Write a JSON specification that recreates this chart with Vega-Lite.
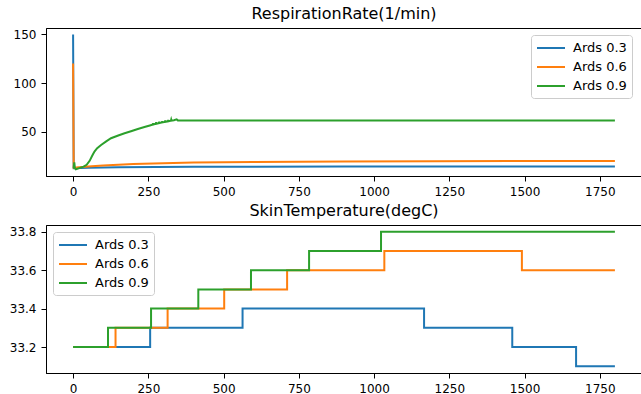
{
  "$schema": "https://vega.github.io/schema/vega-lite/v6.json",
  "padding": {"left": 8, "top": 5, "right": 0, "bottom": 4},
  "config": {
    "font": "DejaVu Sans",
    "view": {"stroke": "black", "strokeWidth": 1},
    "axis": {"grid": false, "domainColor": "black", "tickColor": "black", "labelColor": "black", "labelFontSize": 12, "labelFont": "DejaVu Sans", "tickSize": 5, "labelPadding": 5, "domainWidth": 1, "tickWidth": 1},
    "title": {"fontSize": 16, "fontWeight": "normal", "font": "DejaVu Sans", "color": "black", "baseline": "alphabetic", "offset": 6, "anchor": "middle"},
    "legend": {"orient": "none", "title": null, "symbolType": "M-1,0H3", "symbolSize": 196, "symbolStrokeWidth": 2, "labelFontSize": 13, "labelFont": "DejaVu Sans", "labelColor": "black", "labelOffset": 21, "rowPadding": 4, "padding": 5, "strokeColor": "#cccccc", "fillColor": "rgba(255,255,255,0.8)", "cornerRadius": 3}
  },
  "datasets": {
    "resp": [
      {"t": 0, "v": 150, "s": "Ards 0.3"},
      {"t": 2, "v": 12.5, "s": "Ards 0.3"},
      {"t": 50, "v": 13, "s": "Ards 0.3"},
      {"t": 150, "v": 13.5, "s": "Ards 0.3"},
      {"t": 400, "v": 13.9, "s": "Ards 0.3"},
      {"t": 900, "v": 14.1, "s": "Ards 0.3"},
      {"t": 1800, "v": 14.2, "s": "Ards 0.3"},
      {"t": 0, "v": 120, "s": "Ards 0.6"},
      {"t": 2, "v": 13, "s": "Ards 0.6"},
      {"t": 20, "v": 13.5, "s": "Ards 0.6"},
      {"t": 50, "v": 14.2, "s": "Ards 0.6"},
      {"t": 100, "v": 15.2, "s": "Ards 0.6"},
      {"t": 150, "v": 16, "s": "Ards 0.6"},
      {"t": 200, "v": 16.7, "s": "Ards 0.6"},
      {"t": 300, "v": 17.6, "s": "Ards 0.6"},
      {"t": 400, "v": 18.2, "s": "Ards 0.6"},
      {"t": 600, "v": 18.8, "s": "Ards 0.6"},
      {"t": 900, "v": 19.3, "s": "Ards 0.6"},
      {"t": 1200, "v": 19.6, "s": "Ards 0.6"},
      {"t": 1500, "v": 19.8, "s": "Ards 0.6"},
      {"t": 1800, "v": 19.9, "s": "Ards 0.6"},
      {"t": 0, "v": 12.5, "s": "Ards 0.9"},
      {"t": 2, "v": 13, "s": "Ards 0.9"},
      {"t": 4, "v": 18.5, "s": "Ards 0.9"},
      {"t": 6, "v": 12.5, "s": "Ards 0.9"},
      {"t": 9, "v": 11.3, "s": "Ards 0.9"},
      {"t": 20, "v": 12.5, "s": "Ards 0.9"},
      {"t": 35, "v": 14, "s": "Ards 0.9"},
      {"t": 45, "v": 15.9, "s": "Ards 0.9"},
      {"t": 55, "v": 20, "s": "Ards 0.9"},
      {"t": 63, "v": 25, "s": "Ards 0.9"},
      {"t": 71, "v": 29.5, "s": "Ards 0.9"},
      {"t": 80, "v": 33, "s": "Ards 0.9"},
      {"t": 93, "v": 36.3, "s": "Ards 0.9"},
      {"t": 110, "v": 40, "s": "Ards 0.9"},
      {"t": 126, "v": 43.2, "s": "Ards 0.9"},
      {"t": 150, "v": 46, "s": "Ards 0.9"},
      {"t": 171, "v": 48.3, "s": "Ards 0.9"},
      {"t": 195, "v": 50.7, "s": "Ards 0.9"},
      {"t": 215, "v": 52.7, "s": "Ards 0.9"},
      {"t": 240, "v": 55, "s": "Ards 0.9"},
      {"t": 255, "v": 56.4, "s": "Ards 0.9"},
      {"t": 265, "v": 57.3, "s": "Ards 0.9"},
      {"t": 266, "v": 58.8, "s": "Ards 0.9"},
      {"t": 267, "v": 57.4, "s": "Ards 0.9"},
      {"t": 275, "v": 58.1, "s": "Ards 0.9"},
      {"t": 276, "v": 59.6, "s": "Ards 0.9"},
      {"t": 277, "v": 58.2, "s": "Ards 0.9"},
      {"t": 285, "v": 58.8, "s": "Ards 0.9"},
      {"t": 286, "v": 60.2, "s": "Ards 0.9"},
      {"t": 287, "v": 58.9, "s": "Ards 0.9"},
      {"t": 295, "v": 59.4, "s": "Ards 0.9"},
      {"t": 296, "v": 60.8, "s": "Ards 0.9"},
      {"t": 297, "v": 59.5, "s": "Ards 0.9"},
      {"t": 305, "v": 60, "s": "Ards 0.9"},
      {"t": 306, "v": 61.4, "s": "Ards 0.9"},
      {"t": 307, "v": 60.1, "s": "Ards 0.9"},
      {"t": 315, "v": 60.6, "s": "Ards 0.9"},
      {"t": 316, "v": 62, "s": "Ards 0.9"},
      {"t": 317, "v": 60.7, "s": "Ards 0.9"},
      {"t": 325, "v": 61.2, "s": "Ards 0.9"},
      {"t": 326, "v": 62.4, "s": "Ards 0.9"},
      {"t": 327, "v": 61.3, "s": "Ards 0.9"},
      {"t": 335, "v": 61.8, "s": "Ards 0.9"},
      {"t": 344, "v": 62.6, "s": "Ards 0.9"},
      {"t": 348, "v": 61.6, "s": "Ards 0.9"},
      {"t": 1800, "v": 61.6, "s": "Ards 0.9"}
    ],
    "skin": [
      {"t": 0, "v": 33.2, "s": "Ards 0.3"},
      {"t": 256, "v": 33.3, "s": "Ards 0.3"},
      {"t": 563, "v": 33.4, "s": "Ards 0.3"},
      {"t": 1166, "v": 33.3, "s": "Ards 0.3"},
      {"t": 1459, "v": 33.2, "s": "Ards 0.3"},
      {"t": 1671, "v": 33.1, "s": "Ards 0.3"},
      {"t": 1800, "v": 33.1, "s": "Ards 0.3"},
      {"t": 0, "v": 33.2, "s": "Ards 0.6"},
      {"t": 141, "v": 33.3, "s": "Ards 0.6"},
      {"t": 314, "v": 33.4, "s": "Ards 0.6"},
      {"t": 502, "v": 33.5, "s": "Ards 0.6"},
      {"t": 711, "v": 33.6, "s": "Ards 0.6"},
      {"t": 1034, "v": 33.7, "s": "Ards 0.6"},
      {"t": 1491, "v": 33.6, "s": "Ards 0.6"},
      {"t": 1800, "v": 33.6, "s": "Ards 0.6"},
      {"t": 0, "v": 33.2, "s": "Ards 0.9"},
      {"t": 116, "v": 33.3, "s": "Ards 0.9"},
      {"t": 259, "v": 33.4, "s": "Ards 0.9"},
      {"t": 416, "v": 33.5, "s": "Ards 0.9"},
      {"t": 591, "v": 33.6, "s": "Ards 0.9"},
      {"t": 784, "v": 33.7, "s": "Ards 0.9"},
      {"t": 1023, "v": 33.8, "s": "Ards 0.9"},
      {"t": 1800, "v": 33.8, "s": "Ards 0.9"}
    ]
  },
  "spacing": 4,
  "resolve": {"scale": {"color": "independent"}, "legend": {"color": "independent"}},
  "vconcat": [
    {
      "title": "RespirationRate(1/min)",
      "width": 596,
      "height": 148,
      "data": {"name": "resp"},
      "mark": {"type": "line", "strokeWidth": 2, "clip": true},
      "encoding": {
        "x": {"field": "t", "type": "quantitative", "title": null, "scale": {"domain": [-90, 1890], "nice": false, "zero": false}, "axis": {"values": [0, 250, 500, 750, 1000, 1250, 1500, 1750], "format": "d"}},
        "y": {"field": "v", "type": "quantitative", "title": null, "scale": {"domain": [4.4, 156.6], "nice": false, "zero": false}, "axis": {"values": [50, 100, 150]}},
        "color": {"field": "s", "type": "nominal", "scale": {"domain": ["Ards 0.3", "Ards 0.6", "Ards 0.9"], "range": ["#1f77b4", "#ff7f0e", "#2ca02c"]}, "legend": {"legendX": 485, "legendY": 7}},
        "order": {"field": "t", "type": "quantitative"}
      }
    },
    {
      "title": "SkinTemperature(degC)",
      "width": 596,
      "height": 148,
      "data": {"name": "skin"},
      "mark": {"type": "line", "strokeWidth": 2, "interpolate": "step-after", "clip": true},
      "encoding": {
        "x": {"field": "t", "type": "quantitative", "title": null, "scale": {"domain": [-90, 1890], "nice": false, "zero": false}, "axis": {"values": [0, 250, 500, 750, 1000, 1250, 1500, 1750], "format": "d"}},
        "y": {"field": "v", "type": "quantitative", "title": null, "scale": {"domain": [33.065, 33.835], "nice": false, "zero": false}, "axis": {"values": [33.2, 33.4, 33.6, 33.8], "format": ".1f"}},
        "color": {"field": "s", "type": "nominal", "scale": {"domain": ["Ards 0.3", "Ards 0.6", "Ards 0.9"], "range": ["#1f77b4", "#ff7f0e", "#2ca02c"]}, "legend": {"legendX": 7, "legendY": 7}},
        "order": {"field": "t", "type": "quantitative"}
      }
    }
  ]
}
